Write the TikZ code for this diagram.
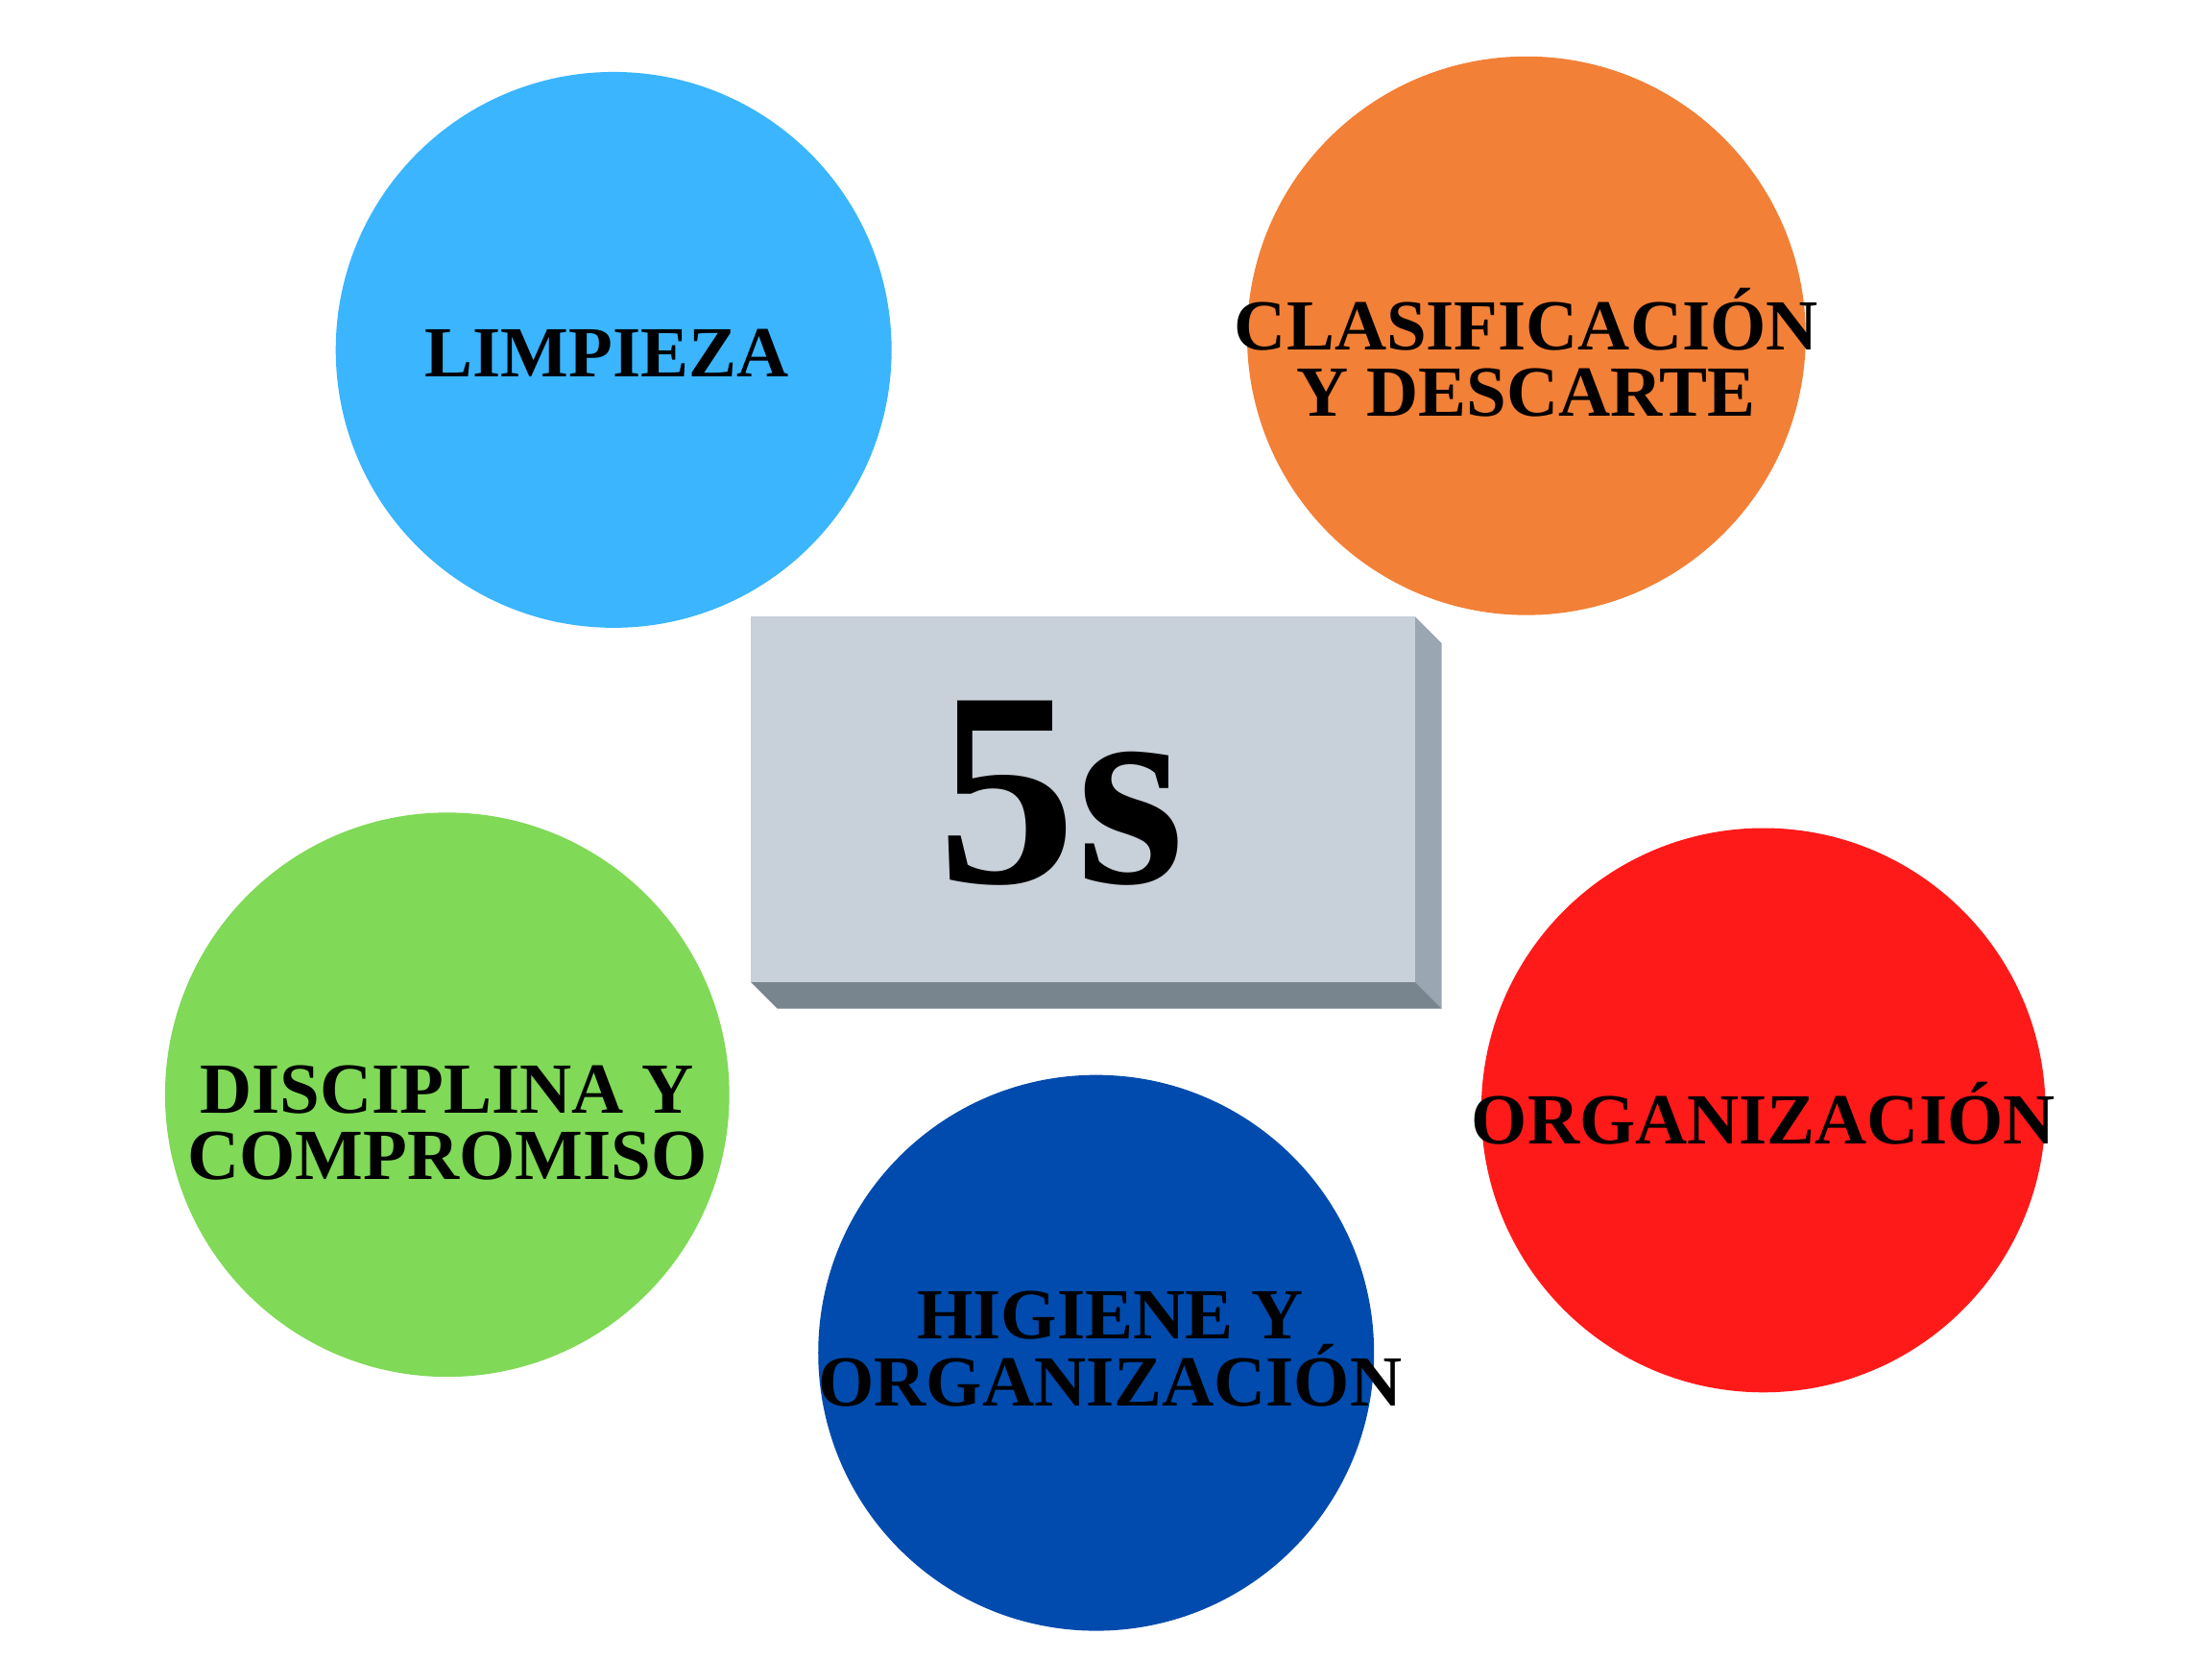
\documentclass[tikz,border=0pt]{standalone}
\usepackage{fontspec}
\setmainfont{Liberation Serif}
\begin{document}
\begin{tikzpicture}[x=0.01cm,y=-0.01cm,
  circ/.style={circle,inner sep=0pt,font=\fontsize{14.5}{13.5}\selectfont\bfseries,align=center,text=black},
  lbl/.style={font=\fontsize{14.5}{13.5}\selectfont\bfseries,align=center}]
\useasboundingbox (0,0) rectangle (1568,1176);
\definecolor{cA}{HTML}{3AB5FE}\definecolor{cB}{HTML}{F28037}
\definecolor{cC}{HTML}{80D957}\definecolor{cD}{HTML}{004BAD}
\definecolor{cE}{HTML}{FF1A1A}
\definecolor{bf}{HTML}{C8D0D9}\definecolor{bs}{HTML}{9AA6B1}\definecolor{bb}{HTML}{78848E}
\fill[cA] (435,248) circle (197);
\fill[cB] (1082,238) circle (198);
\fill[cC] (317,776) circle (200);
\fill[cD] (777,959) circle (197);
\fill[cE] (1250,787) circle (200);
\fill[bs] (1003,437) -- (1022,456) -- (1022,715) -- (1003,696) -- cycle;
\fill[bb] (532,696) -- (1003,696) -- (1022,715) -- (551,715) -- cycle;
\fill[bf] (532,437) rectangle (1003,696);
\node[font=\fontsize{56}{56}\selectfont\bfseries] (c) at (752,562) {5s};
\node[lbl] (a) at (430,250) {LIMPIEZA};
\node[lbl] (b) at (1082,250) {CLASIFICACIÓN\\Y DESCARTE};
\node[lbl] (d) at (317,796) {DISCIPLINA Y\\COMPROMISO};
\node[lbl] (e) at (787,956) {HIGIENE Y\\ORGANIZACIÓN};
\node[lbl] (f) at (1250,789) {ORGANIZACIÓN};
\end{tikzpicture}
\end{document}
